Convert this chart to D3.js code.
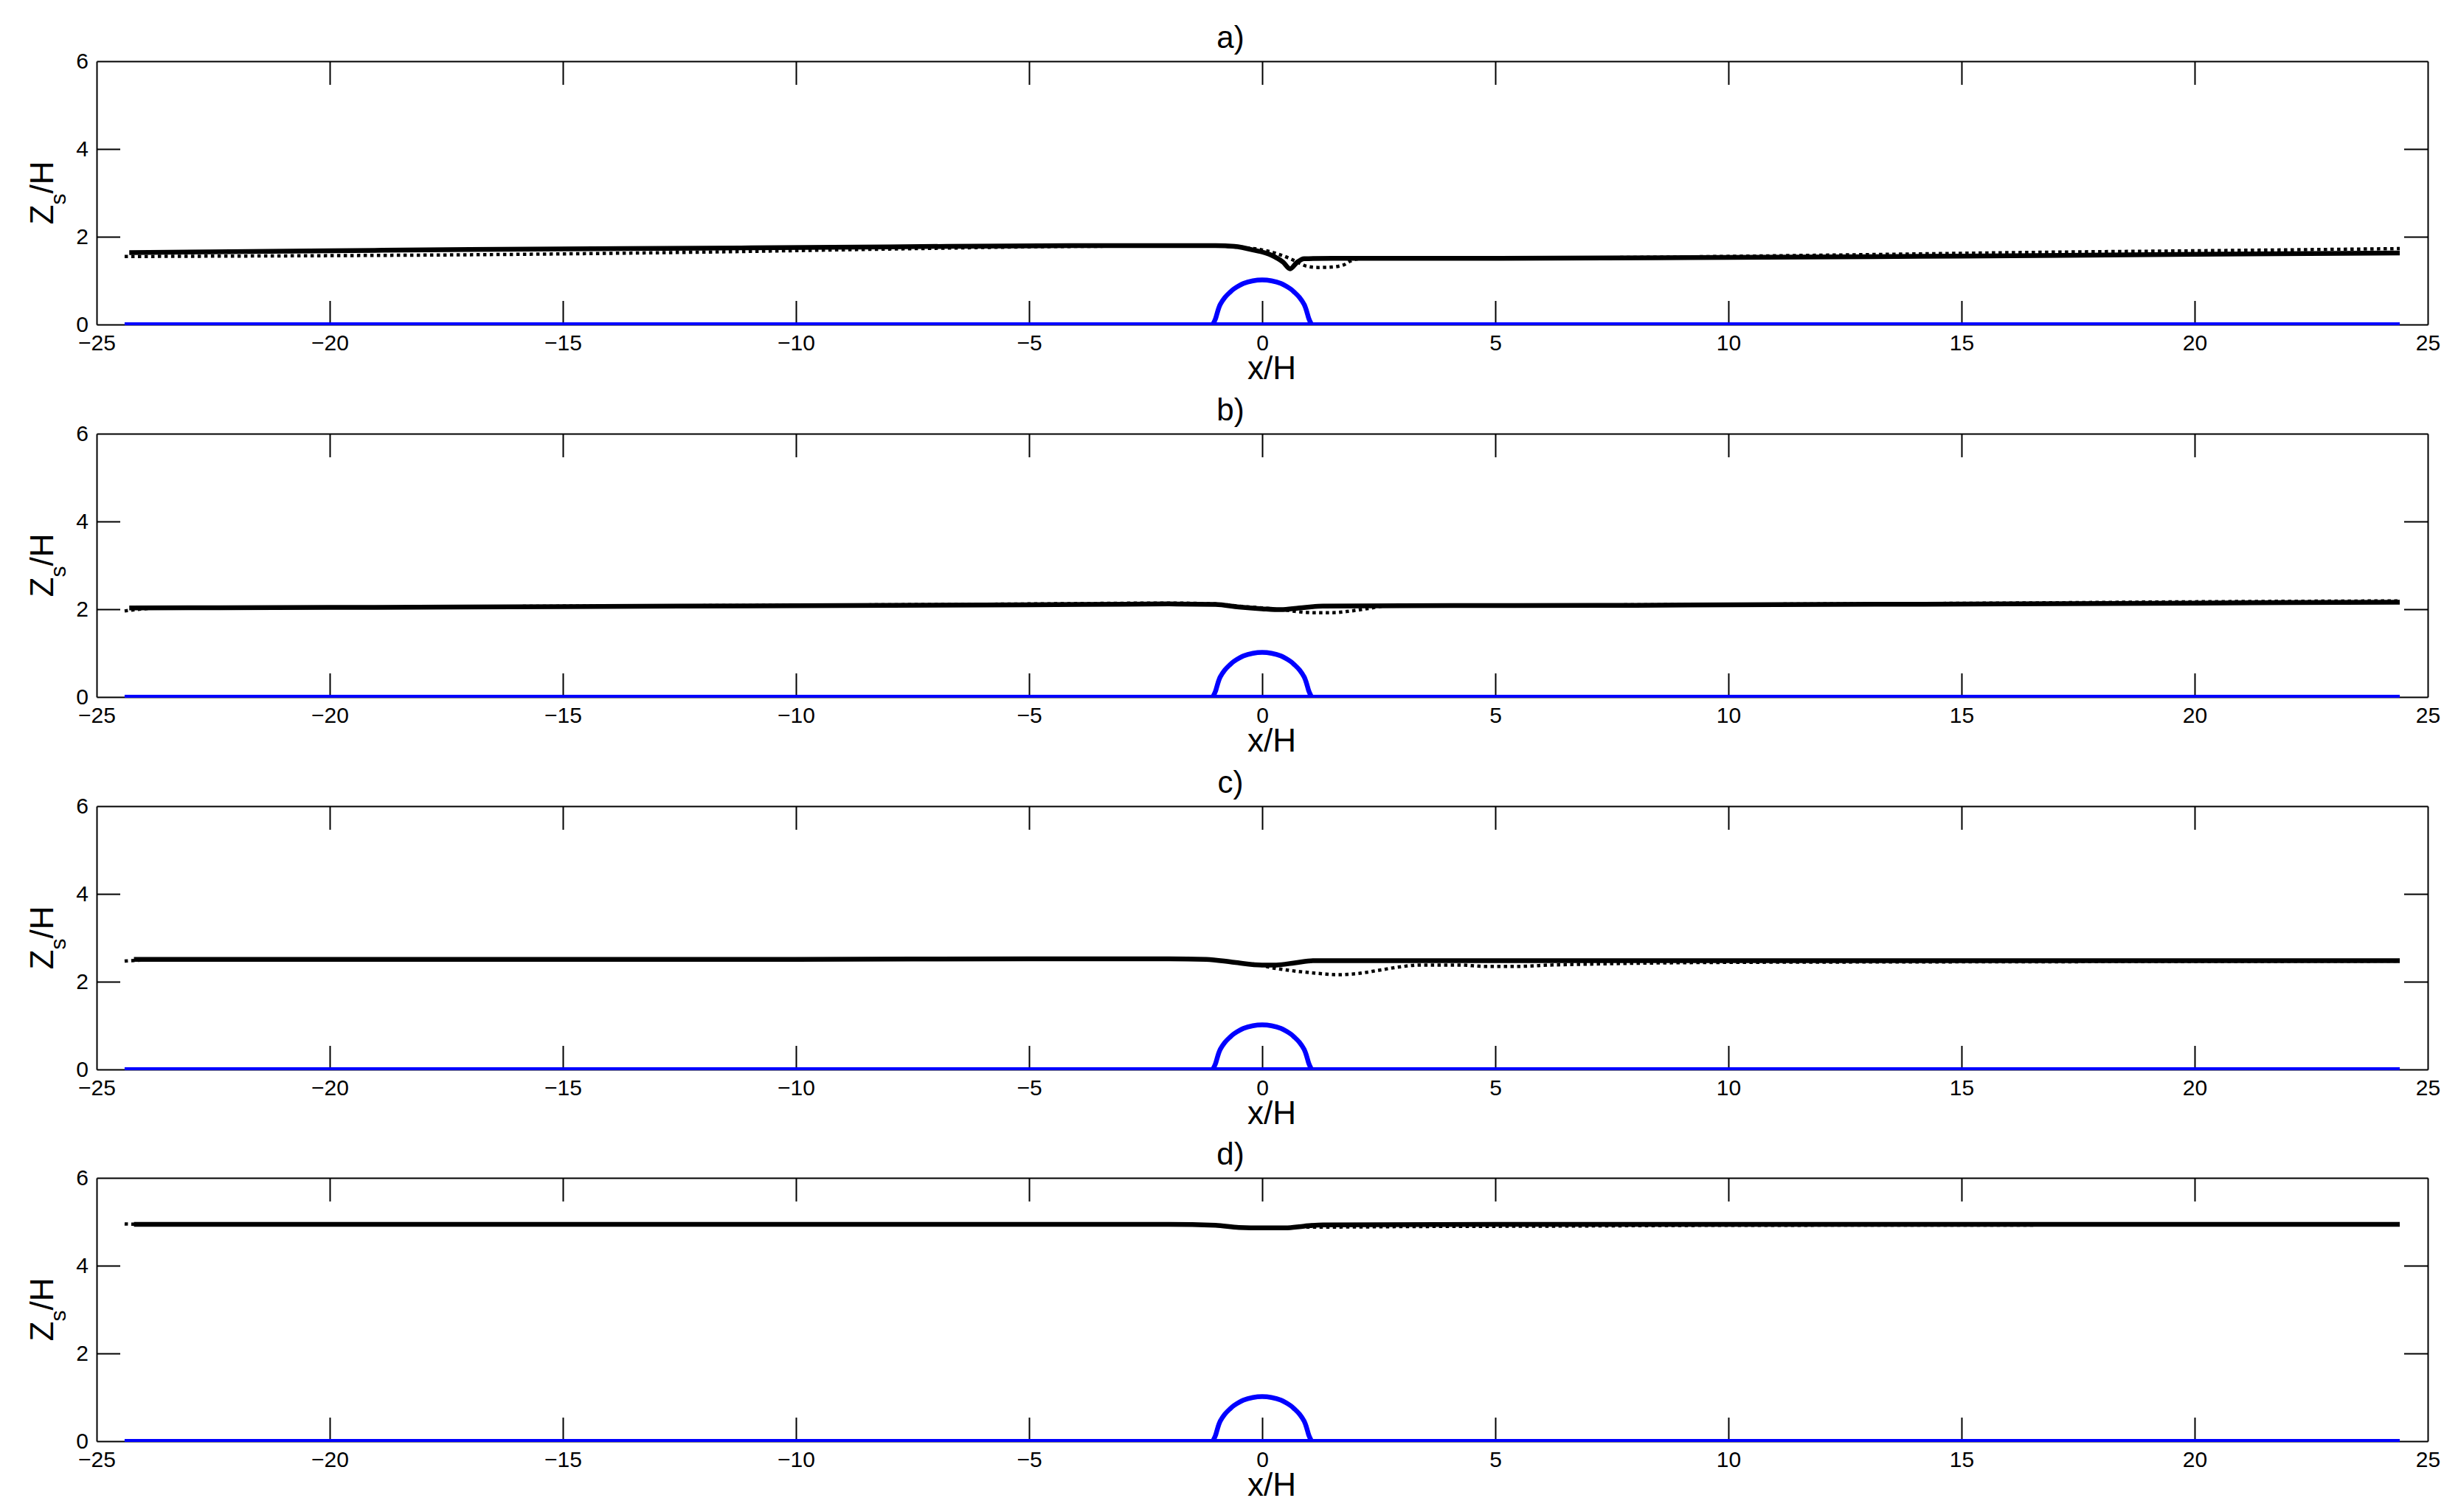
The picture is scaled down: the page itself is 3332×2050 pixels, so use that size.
<!DOCTYPE html>
<html lang="en">
  <head>
    <meta charset="utf-8">
    <title>Z_s/H profiles over a hill</title>
    <script src="https://cdnjs.cloudflare.com/ajax/libs/d3/7.8.5/d3.min.js"></script>
    <style>
      body { margin: 0; background: #fff; }
      text { font-family: "Liberation Sans", Arial, Helvetica, sans-serif; fill: #000; }
    </style>
  </head>
  <body>
    <div class="chart"></div>
    <script>
      // ---- data ----
      var panelTitles = ["a)", "b)", "c)", "d)"];
      var xTicks = [-25, -20, -15, -10, -5, 0, 5, 10, 15, 20, 25];
      var yTicks = [0, 2, 4, 6];

      // solid line (x/H, Z_s/H)
      var solidA = [[-24.3,1.64],[-20,1.68],[-17,1.71],[-12,1.74],[-8,1.77],[-4,1.80],[-1,1.80],[-0.6,1.78],[-0.2,1.70],[0.2,1.58],[0.45,1.42],[0.6,1.27],[0.75,1.42],[0.9,1.50],[1.5,1.51],[5,1.51],[10,1.53],[15,1.56],[20,1.60],[24.4,1.63]];
      var dottedA = [[-24.4,1.55],[-20,1.57],[-17,1.59],[-12,1.65],[-8,1.72],[-4,1.78],[-1,1.79],[-0.5,1.76],[0,1.70],[0.3,1.62],[0.6,1.50],[0.8,1.40],[0.95,1.33],[1.2,1.30],[1.5,1.31],[1.75,1.36],[1.9,1.45],[2.1,1.50],[4,1.51],[8,1.53],[12,1.58],[17,1.65],[20,1.68],[24.4,1.73]];

      var solidB = [[-24.3,2.03],[-20,2.04],[-15,2.06],[-10,2.08],[-5,2.10],[-2,2.12],[-1,2.11],[-0.5,2.05],[0,2.01],[0.4,1.99],[0.8,2.03],[1.3,2.07],[3,2.08],[8,2.09],[12,2.11],[16,2.12],[20,2.14],[24.4,2.16]];
      var dottedB = [[-24.4,1.96],[-23.6,2.03],[-20,2.04],[-15,2.07],[-10,2.09],[-5,2.12],[-2,2.14],[-1,2.12],[-0.5,2.07],[0,2.03],[0.5,1.98],[0.8,1.94],[1.1,1.92],[1.5,1.92],[1.9,1.96],[2.3,2.02],[2.6,2.07],[4,2.08],[8,2.10],[12,2.12],[16,2.14],[20,2.17],[24.4,2.19]];

      var solidC = [[-24.2,2.51],[-20,2.51],[-10,2.51],[-5,2.52],[-2,2.52],[-1.2,2.51],[-0.6,2.44],[0,2.38],[0.3,2.38],[0.7,2.43],[1.1,2.48],[2,2.48],[5,2.48],[10,2.48],[20,2.48],[24.4,2.48]];
      var dottedC = [[-24.4,2.47],[-23.8,2.50],[-20,2.51],[-10,2.51],[-5,2.52],[-2,2.52],[-1.2,2.51],[-0.6,2.44],[0,2.37],[0.2,2.32],[0.5,2.27],[0.9,2.22],[1.3,2.18],[1.6,2.16],[2.0,2.18],[2.5,2.26],[2.9,2.33],[3.4,2.38],[4.2,2.38],[4.8,2.35],[5.5,2.35],[6.2,2.38],[7,2.40],[8,2.42],[10,2.44],[14,2.45],[20,2.46],[24.4,2.47]];

      var solidD = [[-24.2,4.94],[-10,4.94],[-2,4.94],[-1,4.92],[-0.5,4.87],[0,4.86],[0.5,4.86],[0.9,4.90],[1.3,4.93],[5,4.94],[24.4,4.94]];
      var dottedD = [[-24.4,4.95],[-23.9,4.94],[-2,4.94],[-1,4.92],[-0.5,4.87],[0,4.86],[0.5,4.86],[0.8,4.88],[1.5,4.88],[3,4.89],[6,4.90],[10,4.92],[24.4,4.93]];

      // hill (blue) and flat ground
      var hill = [[-1.05,0],[-1,0.12],[-0.95,0.3],[-0.9,0.44],[-0.8,0.6],[-0.7,0.71],[-0.6,0.8],[-0.4,0.92],[-0.2,0.98],[0,1.0],[0.2,0.98],[0.4,0.92],[0.6,0.8],[0.7,0.71],[0.8,0.6],[0.9,0.44],[0.95,0.3],[1,0.12],[1.05,0]];
      var ground = [[-24.4,0],[24.4,0]];

      var solids = [solidA, solidB, solidC, solidD];
      var dotteds = [dottedA, dottedB, dottedC, dottedD];

      // ---- layout ----
      var svgWidth = 3332;
      var svgHeight = 2050;
      var plotLeft = 131, plotRight = 3291;
      var panelTops = [83, 588, 1093, 1597];
      var panelHeight = 357;
      var tickLen = 32;

      var svg = d3.select(".chart")
        .append("svg")
        .attr("width", svgWidth)
        .attr("height", svgHeight);

      var x = d3.scaleLinear().domain([-25, 25]).range([plotLeft, plotRight]);

      panelTitles.forEach(function (title, i) {
        var top = panelTops[i];
        var y = d3.scaleLinear().domain([0, 6]).range([top + panelHeight, top]);
        var g = svg.append("g");

        var line = d3.line()
          .x(d => x(d[0]))
          .y(d => y(d[1]))
          .curve(d3.curveMonotoneX);

        // axes: bottom/left with labels, top/right plain, ticks inward
        var bottom = g.append("g")
          .attr("transform", `translate(0, ${top + panelHeight})`)
          .call(d3.axisBottom(x).tickValues(xTicks).tickSizeInner(-tickLen).tickSizeOuter(0).tickPadding(14)
            .tickFormat(d => d3.format("d")(d)));
        var topAx = g.append("g")
          .attr("transform", `translate(0, ${top})`)
          .call(d3.axisTop(x).tickValues(xTicks).tickSizeInner(-tickLen).tickSizeOuter(0).tickFormat(""));
        var left = g.append("g")
          .attr("transform", `translate(${plotLeft}, 0)`)
          .call(d3.axisLeft(y).tickValues(yTicks).tickSizeInner(-tickLen).tickSizeOuter(0).tickPadding(11)
            .tickFormat(d3.format("d")));
        var right = g.append("g")
          .attr("transform", `translate(${plotRight}, 0)`)
          .call(d3.axisRight(y).tickValues(yTicks).tickSizeInner(-tickLen).tickSizeOuter(0).tickFormat(""));

        [bottom, topAx, left, right].forEach(function (ax) {
          ax.select(".domain").attr("stroke", "#000").attr("stroke-width", 2);
          ax.selectAll(".tick line").attr("stroke", "#000").attr("stroke-width", 2);
          ax.selectAll(".tick text")
            .style("font-size", "30px")
            .style("font-family", "'Liberation Sans', Arial, sans-serif")
            .attr("fill", "#000");
        });
        // first/last tick coincide with the box edges
        bottom.selectAll(".tick line").filter(d => d === -25 || d === 25).remove();
        topAx.selectAll(".tick line").filter(d => d === -25 || d === 25).remove();
        left.selectAll(".tick line").filter(d => d === 0 || d === 6).remove();
        right.selectAll(".tick line").filter(d => d === 0 || d === 6).remove();

        // blue ground and hill
        g.append("path")
          .datum(ground)
          .attr("d", d3.line().x(d => x(d[0])).y(d => y(d[1]) - 1))
          .attr("fill", "none")
          .attr("stroke", "#0000ff")
          .attr("stroke-width", 4);
        g.append("path")
          .datum(hill)
          .attr("d", d3.line().x(d => x(d[0])).y(d => y(d[1]) - 1).curve(d3.curveCardinal.tension(0.3)))
          .attr("fill", "none")
          .attr("stroke", "#0000ff")
          .attr("stroke-width", 6.5);

        // dotted then solid black lines
        g.append("path")
          .datum(dotteds[i])
          .attr("d", line)
          .attr("fill", "none")
          .attr("stroke", "#000")
          .attr("stroke-width", 4.5)
          .attr("stroke-dasharray", "4.5 4.5");
        g.append("path")
          .datum(solids[i])
          .attr("d", line)
          .attr("fill", "none")
          .attr("stroke", "#000")
          .attr("stroke-width", 6.5);

        // title and labels
        g.append("text")
          .attr("x", 1668)
          .attr("y", top - 18)
          .attr("text-anchor", "middle")
          .style("font-size", "42px")
          .text(title);

        g.append("text")
          .attr("x", 1724)
          .attr("y", top + panelHeight + 74)
          .attr("text-anchor", "middle")
          .style("font-size", "44px")
          .text("x/H");

        var yl = g.append("text")
          .attr("transform", `translate(72, ${top + panelHeight / 2}) rotate(-90)`)
          .attr("text-anchor", "middle")
          .style("font-size", "44px");
        yl.append("tspan").text("Z");
        yl.append("tspan").attr("baseline-shift", "sub").style("font-size", "30px").text("s");
        yl.append("tspan").text("/H");
      });
    </script>
  </body>
</html>
